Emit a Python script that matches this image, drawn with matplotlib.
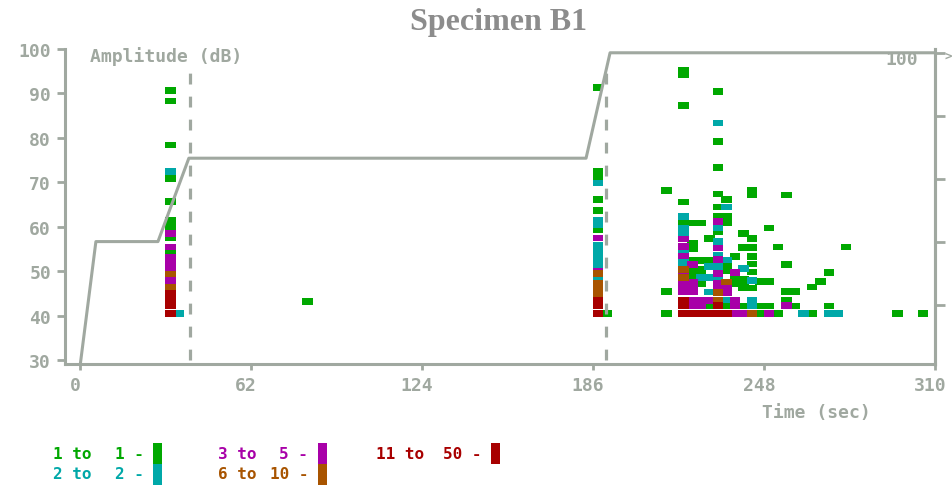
import matplotlib
matplotlib.use("Agg")
import matplotlib.pyplot as plt
from matplotlib.patches import Rectangle
from matplotlib.transforms import ScaledTranslation

# Hit cells, one list per hit-count class: (time s, amplitude dB)
hits_1 = [
    (31.0, 90.6), (31.0, 88.3), (31.0, 78.4), (31.0, 70.9), (31.0, 65.7), (31.0, 61.5),
    (31.0, 60.0), (31.0, 57.6), (31.0, 54.4),
    (80.6, 43.3),
    (186.0, 91.3), (186.0, 72.5), (186.0, 71.3), (186.0, 66.2), (186.0, 63.7), (186.0, 59.4),
    (189.1, 40.5),
    (210.8, 68.2), (210.8, 45.5), (210.8, 40.6),
    (217.0, 95.2), (217.0, 94.2), (217.0, 87.3), (217.0, 65.6), (217.0, 60.9),
    (220.1, 60.9), (220.1, 56.3), (220.1, 55.1), (220.1, 52.5), (220.1, 50.2), (220.1, 49.0),
    (223.2, 60.9), (223.2, 52.5), (223.2, 50.4), (223.2, 49.3), (223.2, 47.2),
    (226.3, 57.4), (226.3, 52.5), (226.3, 42.2),
    (229.4, 90.4), (229.4, 79.2), (229.4, 73.4), (229.4, 67.4), (229.4, 64.5), (229.4, 62.4),
    (229.4, 58.9),
    (232.5, 66.2), (232.5, 62.4), (232.5, 60.9), (232.5, 51.4), (232.5, 50.2), (232.5, 42.2),
    (235.6, 53.3), (235.6, 48.3), (235.6, 47.3),
    (238.7, 58.5), (238.7, 55.4), (238.7, 48.3), (238.7, 47.3), (238.7, 46.3), (238.7, 42.2),
    (241.8, 68.2), (241.8, 67.2), (241.8, 57.4), (241.8, 55.4), (241.8, 53.3), (241.8, 51.7),
    (241.8, 49.9), (241.8, 46.3),
    (244.9, 47.8), (244.9, 42.2), (244.9, 40.6),
    (248.0, 59.8), (248.0, 47.8), (248.0, 42.2),
    (251.1, 55.5), (251.1, 40.6),
    (254.2, 67.2), (254.2, 51.6), (254.2, 45.5), (254.2, 43.6),
    (257.3, 45.5), (257.3, 42.2),
    (263.5, 46.5), (263.5, 40.6),
    (266.6, 47.8),
    (269.7, 49.8), (269.7, 42.2),
    (275.9, 55.5),
    (294.5, 40.6), (303.8, 40.6),
]
hits_2 = [
    (31.0, 72.5), (34.1, 40.5),
    (186.0, 69.9), (186.0, 61.6), (186.0, 60.6), (186.0, 55.9), (186.0, 54.8), (186.0, 53.7),
    (186.0, 52.6), (186.0, 51.5), (186.0, 48.5),
    (217.0, 62.4), (217.0, 59.6), (217.0, 58.6), (217.0, 54.4), (217.0, 52.6), (217.0, 51.6),
    (223.2, 48.6), (226.3, 48.6), (229.4, 48.6), (226.3, 51.1), (229.4, 51.1), (226.3, 45.4),
    (229.4, 83.4), (229.4, 59.8), (229.4, 56.8), (229.4, 53.6),
    (232.5, 64.5), (232.5, 52.6), (232.5, 43.6),
    (238.7, 50.7),
    (241.8, 48.0), (241.8, 43.5), (241.8, 42.3),
    (260.4, 40.6), (269.7, 40.6), (272.8, 40.6),
]
hits_3_5 = [
    (31.0, 58.5), (31.0, 55.5), (31.0, 53.1), (31.0, 51.9), (31.0, 50.6), (31.0, 48.4),
    (31.0, 47.6),
    (186.0, 57.5), (186.0, 50.1),
    (217.0, 57.3), (217.0, 55.6), (217.0, 53.5), (217.0, 49.6), (217.0, 47.5), (217.0, 46.5),
    (217.0, 45.5),
    (220.1, 51.5), (220.1, 47.5), (220.1, 46.5), (220.1, 45.5), (220.1, 43.4), (220.1, 42.4),
    (223.2, 43.4), (223.2, 42.4), (226.3, 43.4),
    (229.4, 61.2), (229.4, 55.3), (229.4, 52.7), (229.4, 49.5), (229.4, 47.3), (229.4, 46.3),
    (232.5, 46.3), (232.5, 45.3),
    (235.6, 49.8), (235.6, 43.4), (235.6, 42.4), (235.6, 40.6),
    (238.7, 40.6), (248.0, 40.6), (254.2, 42.3),
]
hits_6_10 = [
    (31.0, 49.4), (31.0, 46.5),
    (186.0, 49.5), (186.0, 47.4), (186.0, 46.2), (186.0, 45.1),
    (217.0, 50.4), (217.0, 48.6),
    (229.4, 45.3), (229.4, 43.6),
    (232.5, 47.6),
    (241.8, 40.6),
]
hits_11_50 = [
    (31.0, 45.1), (31.0, 43.4), (31.0, 42.4), (31.0, 40.5),
    (186.0, 43.4), (186.0, 42.4), (186.0, 40.5),
    (217.0, 43.4), (217.0, 42.4), (217.0, 40.6),
    (220.1, 40.6), (223.2, 40.6), (226.3, 40.6), (229.4, 40.6), (232.5, 40.6),
    (229.4, 42.3),
]

class_from = ['1 to', '2 to', '3 to', '6 to', '11 to']
class_to = ['1 -', '2 -', '5 -', '10 -', '50 -']
class_colors = ['#00a800', '#00a8a8', '#a800a8', '#a85400', '#a80000']

# cumulative hits curve (right axis, percent)
cum_time = [0, 5.8, 28.3, 39.5, 183.5, 192.2, 310]
cum_pct = [0, 40, 40, 66.5, 66.5, 100, 100]

marker_times = [39.9, 190.7]

x_ticks = [0, 62, 124, 186, 248, 310]
y_ticks = [30, 40, 50, 60, 70, 80, 90, 100]
right_ticks = [20, 40, 60, 80, 100]

grey = '#a0a8a0'
mono = ['DejaVu Sans Mono']
W, H = 953, 489


def fx(px):
    return px / W


def fy(py):
    return 1 - py / H


fig = plt.figure(figsize=(W / 100, H / 100), dpi=100)
ax = fig.add_axes([fx(65), fy(365), fx(935) - fx(65), fy(50) - fy(365)])
ax.set_xlim(-5.4, 310)
ax.set_ylim(29.2, 100)

cell_w = 3.8
cell_h = 1.5
for cells, col in zip([hits_1, hits_2, hits_3_5, hits_6_10, hits_11_50], class_colors):
    ts = [c[0] for c in cells]
    bottoms = [c[1] - cell_h / 2 for c in cells]
    ax.bar(ts, cell_h, width=cell_w, bottom=bottoms, align='edge', color=col,
           linewidth=0, zorder=2)

ax.vlines(marker_times, 30, 95, colors=grey, linewidth=2.3,
          linestyles=(0, (3.4, 3.8)), zorder=3)

ax.spines['top'].set_visible(False)
for s in ['left', 'bottom', 'right']:
    ax.spines[s].set_color(grey)
    ax.spines[s].set_linewidth(2.2)

ax.set_xticks(x_ticks)
ax.set_xticklabels([str(v) for v in x_ticks])
ax.set_yticks(y_ticks)
ax.set_yticklabels([str(v) for v in y_ticks])
ax.tick_params(axis='x', direction='out', length=4, width=2, color=grey, pad=5,
               labelcolor=grey, labelsize=13)
ax.tick_params(axis='y', direction='out', length=6, width=2, color=grey, pad=4,
               labelcolor=grey, labelsize=13)
for lab in ax.get_xticklabels() + ax.get_yticklabels():
    lab.set_family(mono)
    lab.set_weight('bold')
offset = ScaledTranslation(-5 / 100, 0, fig.dpi_scale_trans)
for lab in ax.get_xticklabels():
    lab.set_transform(lab.get_transform() + offset)

ax2 = ax.twinx()
ax2.set_ylim(1.1, 101.2)
ax2.plot(cum_time, cum_pct, color=grey, linewidth=2.2, zorder=3)
ax2.set_yticks(right_ticks)
ax2.set_yticklabels([])
ax2.tick_params(axis='y', direction='out', length=7, width=2, color=grey)
for s in ['top', 'left', 'bottom']:
    ax2.spines[s].set_visible(False)
ax2.spines['right'].set_color(grey)
ax2.spines['right'].set_linewidth(2.2)

txt = dict(family=mono, weight='bold', fontsize=13, color=grey)
fig.text(fx(90), fy(57), 'Amplitude (dB)', ha='left', va='center', **txt)
fig.text(fx(762), fy(413), 'Time (sec)', ha='left', va='center', **txt)
fig.text(fx(918), fy(60), '100', ha='right', va='center', **txt)
fig.text(fx(945), fy(56), '>', ha='left', va='center', family=mono, weight='bold',
         fontsize=9, color=grey)

fig.text(fx(499), fy(30), 'Specimen B1', ha='center', va='baseline',
         family=['Liberation Serif'], weight='bold', fontsize=23, color='#8c8c8c')

# legend of hit classes
leg_cols = [(53, 144, 153), (53, 144, 153), (218, 308, 318), (218, 308, 318), (376, 482, 491)]
leg_rows = [0, 1, 0, 1, 0]
for i in range(5):
    left, right, bar_x = leg_cols[i]
    row = leg_rows[i]
    yc = 455 + 20 * row
    top = 444 + 21 * row
    fig.text(fx(left), fy(yc), class_from[i], ha='left', va='center',
             family=mono, weight='bold', fontsize=11.5, color=class_colors[i])
    fig.text(fx(right), fy(yc), class_to[i], ha='right', va='center',
             family=mono, weight='bold', fontsize=11.5, color=class_colors[i])
    fig.add_artist(Rectangle((fx(bar_x), fy(top + 21)), 9 / W, 21 / H,
                             transform=fig.transFigure, color=class_colors[i], lw=0))

fig.savefig('out.png', dpi=100)
